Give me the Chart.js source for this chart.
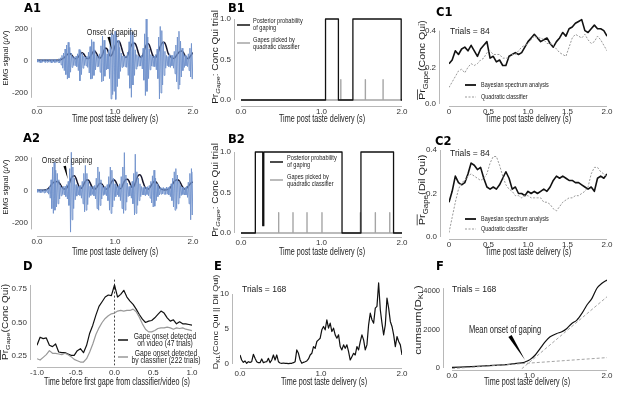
<!DOCTYPE html>
<html>
<head>
<meta charset="utf-8">
<script src="https://cdn.jsdelivr.net/npm/chart.js@4.4.1/dist/chart.umd.min.js"></script>
<style>
  html, body { margin: 0; padding: 0; background: #fff; }
  #fig { position: relative; width: 617px; height: 395px; overflow: hidden; background: #fff; }
  #fig canvas { position: absolute; left: 0; top: 0; }
</style>
</head>
<body>
<div id="fig"></div>
<script>
// ---------- data ----------

// A1 / A2: raw EMG (uV) every 10 ms, smoothed envelope every 20 ms
const emgStep = 0.01, envStep = 0.02;
const emgA1 = [
  8,-7,10,-9,6,-11,9,-8,12,-6,
  7,-10,9,-8,11,-7,6,-9,10,-12,
  8,-7,9,-10,12,-8,6,-9,14,-12,
  20,-25,35,-45,50,-60,75,-85,100,-113,
  117,-105,85,-70,50,-40,30,-28,25,-30,
  30,-35,45,-60,72,-124,65,-85,50,-45,
  30,-28,25,-30,30,-40,55,-75,90,-113,
  134,-110,120,-90,70,-55,40,-35,30,-35,
  45,-70,95,-130,155,-125,130,-95,75,-55,
  45,-50,70,-110,150,-237,175,-210,165,-190,
  186,-240,170,-160,130,-110,85,-65,50,-40,
  32,-35,30,-35,32,-40,55,-90,120,-170,
  206,-227,180,-150,120,-90,70,-50,40,-35,
  30,-30,28,-32,35,-50,80,-120,170,-216,
  262,-190,150,-110,75,-55,40,-32,30,-35,
  30,-35,40,-55,75,-110,150,-237,216,-200,
  190,-150,120,-90,60,-45,35,-30,28,-35,
  45,-40,35,-30,35,-45,60,-80,100,-130,
  150,-175,186,-150,124,-100,80,-60,45,-40,
  35,-30,28,-35,45,-60,80,-100,110,-113,
  52
];
const envA1 = [
  4,5,5,4,5,5,4,5,5,5,
  4,5,6,5,6,8,12,18,26,36,
  45,47,40,28,18,14,20,32,46,52,
  44,28,16,15,25,42,57,62,50,30,
  18,22,40,66,82,74,48,30,38,62,
  92,115,124,118,90,55,30,22,32,58,
  88,106,113,108,85,50,26,22,42,75,
  100,109,100,70,40,22,20,35,62,90,
  110,117,112,85,50,35,22,16,18,28,
  42,55,61,62,50,32,18,15,25,40,
  52
];
const emgA2 = [
  10,-8,12,-9,7,-11,10,-8,9,-12,
  8,-10,12,-9,15,-20,30,-45,70,-110,
  150,-140,179,-120,130,-100,110,-80,70,-50,
  35,-30,25,-22,28,-25,30,-35,40,-50,
  60,-90,140,-257,242,-180,150,-110,80,-55,
  40,-32,28,-25,30,-28,35,-45,60,-80,
  110,-130,160,-120,110,-85,60,-40,30,-28,
  25,-22,28,-30,35,-50,80,-110,150,-120,
  120,-90,70,-50,35,-28,25,-22,28,-30,
  40,-60,90,-120,150,-140,130,-100,80,-60,
  45,-35,28,-25,30,-35,45,-60,90,-110,
  150,-140,240,-120,100,-70,50,-35,28,-30,
  35,-45,60,-80,110,-150,230,-140,120,-90,
  80,-60,45,-35,28,-25,22,-25,28,-30,
  25,-22,28,-30,35,-45,60,-75,95,-100,
  130,-95,80,-60,45,-35,28,-25,22,-20,
  20,-18,22,-20,18,-22,25,-20,22,-25,
  28,-35,45,-60,80,-100,120,-120,140,-110,
  100,-80,60,-45,35,-28,25,-22,20,-25,
  22,-25,30,-40,55,-80,110,-180,140,-150,
  120
];
const envA2 = [
  5,5,4,5,5,6,8,14,24,36,
  48,55,58,59,54,40,24,14,12,18,
  32,55,80,93,95,80,50,26,16,22,
  42,60,70,68,52,30,15,12,18,32,
  46,48,38,22,12,12,22,42,60,70,
  66,48,26,14,18,38,60,72,74,62,
  38,22,28,50,80,98,101,88,55,28,
  15,12,16,30,48,58,59,48,30,16,
  10,8,7,8,10,16,28,45,60,68,
  70,66,50,30,16,12,18,30,42,52,
  55
];
const onsetA1 = [0.958, 69];
const onsetA2 = [0.394, 75];

// B1 / B2: posterior probability (changes only) and classifier gape times
const postB1T = [0, 1.05, 1.21, 1.39, 1.99, 2.0];
const postB1V = [0, 1, 0, 1, 0, 0];
const gapesB1 = [1.24, 1.545, 1.765];
const postB2T = [0, 0.178, 0.27, 0.283, 1.255, 1.49, 1.895, 2.0];
const postB2V = [0, 1, 0.09, 1, 0, 1, 0, 0];
const gapesB2 = [0.468, 0.646, 0.82, 1.006, 1.483, 1.669, 1.848];
const gapeMark = 0.25;

// C1 / C2: mean probability of gaping every 40 ms
const cStep = 0.04;
const bayesC1 = [
  0.22,0.24,0.29,0.27,0.30,0.31,0.29,0.32,0.29,0.26,
  0.30,0.32,0.34,0.25,0.26,0.23,0.24,0.21,0.21,0.26,
  0.27,0.28,0.27,0.28,0.31,0.34,0.36,0.38,0.36,0.34,
  0.35,0.36,0.33,0.31,0.34,0.36,0.39,0.37,0.41,0.42,
  0.44,0.45,0.46,0.40,0.39,0.41,0.43,0.41,0.41,0.40,
  0.37
];
const quadC1 = [
  0.09,0.12,0.15,0.18,0.19,0.17,0.20,0.22,0.21,0.22,
  0.24,0.25,0.28,0.29,0.27,0.27,0.27,0.25,0.25,0.25,
  0.27,0.27,0.29,0.31,0.32,0.33,0.35,0.37,0.36,0.36,
  0.35,0.33,0.33,0.32,0.30,0.28,0.27,0.26,0.31,0.36,
  0.38,0.37,0.36,0.38,0.35,0.33,0.34,0.37,0.35,0.32,
  0.29
];
const bayesC2 = [
  0.16,0.21,0.28,0.25,0.24,0.25,0.29,0.34,0.33,0.31,
  0.32,0.27,0.23,0.22,0.23,0.22,0.24,0.27,0.30,0.27,
  0.22,0.23,0.20,0.20,0.19,0.21,0.20,0.21,0.20,0.21,
  0.22,0.21,0.23,0.26,0.28,0.27,0.28,0.27,0.26,0.26,
  0.25,0.25,0.24,0.23,0.22,0.23,0.21,0.27,0.28,0.27,
  0.29
];
const quadC2 = [
  0.02,0.09,0.16,0.22,0.25,0.26,0.28,0.29,0.28,0.27,
  0.26,0.27,0.29,0.34,0.37,0.37,0.33,0.28,0.24,0.22,
  0.21,0.19,0.19,0.18,0.19,0.19,0.18,0.18,0.18,0.18,
  0.16,0.16,0.15,0.13,0.12,0.14,0.16,0.17,0.18,0.18,
  0.19,0.19,0.20,0.21,0.23,0.29,0.32,0.32,0.30,0.29,
  0.28
];

// D: aligned to first gape, -1 s .. 1 s every 40 ms
const dStart = -1, dStep = 0.04;
const videoD = [
  0.33,0.39,0.38,0.385,0.33,0.32,0.34,0.28,0.275,0.275,
  0.265,0.255,0.255,0.29,0.305,0.275,0.33,0.42,0.48,0.555,
  0.62,0.655,0.69,0.705,0.70,0.78,0.69,0.71,0.74,0.69,
  0.66,0.635,0.60,0.56,0.525,0.50,0.51,0.515,0.535,0.56,
  0.585,0.57,0.535,0.51,0.52,0.49,0.505,0.49,0.49,0.485,
  0.48
];
const classD = [
  0.23,0.22,0.24,0.26,0.29,0.27,0.27,0.265,0.26,0.27,
  0.26,0.245,0.225,0.215,0.205,0.205,0.23,0.28,0.34,0.41,
  0.46,0.50,0.53,0.55,0.565,0.57,0.585,0.59,0.585,0.59,
  0.59,0.60,0.58,0.54,0.49,0.45,0.43,0.43,0.44,0.455,
  0.46,0.46,0.465,0.46,0.45,0.46,0.455,0.46,0.45,0.445,
  0.44
];
const dOnsetTop = 0.82;

// E: KL divergence, 98 samples over 0..2 s
const eStep = 0.02062;
const dklE = [
  1.29,0.57,0.24,0.43,0.10,0.33,0.24,0.33,1.39,0.81,
  0.33,0.19,0.19,0.72,0.19,0.29,0.33,0.81,0.19,0.57,
  1.29,0.57,1.29,0.33,0.14,0.10,0.14,0.10,0.10,0.05,
  0.10,0.10,0.19,0.33,2.01,1.53,0.57,0.10,0.24,0.33,
  0.43,0.72,1.29,1.53,2.49,2.25,3.21,3.44,3.68,4.88,
  5.36,4.88,6.32,5.12,5.84,4.64,5.12,4.16,3.68,4.16,
  2.49,2.01,2.73,2.25,2.73,1.77,0.57,1.05,1.53,1.29,
  2.49,2.01,3.21,4.16,3.44,2.01,2.73,5.60,7.27,6.32,
  5.84,7.99,8.23,11.58,7.75,5.84,4.16,5.60,9.43,7.99,
  6.08,5.36,4.16,2.49,3.92,3.21,2.73,1.29
];

// F: cumulative KL and the two straight-line fits
const cumT = [0,0.315,0.531,0.704,0.834,0.92,0.963,1.006,1.071,1.136,1.201,1.266,1.352,1.417,1.482,1.546,1.611,1.676,1.741,1.806,1.87,1.935,2.0];
const cumV = [30,87,139,174,244,278,348,435,661,1009,1357,1618,1792,1879,2053,2314,2488,2836,3271,3619,4141,4402,4576];
const preFitT = [0, 2.0];
const preFitV = [-30, 540];
const postFitT = [0.9, 2.0];
const postFitV = [-40, 3700];
const onsetF = [0.942, 415];

// ticks
const tXTicks = [0, 1, 2], tXLabels = ['0.0', '1.0', '2.0'];
const cXTicks = [0, 0.5, 1, 1.5, 2], cXLabels = ['0', '0.5', '1.0', '1.5', '2.0'];
const dXTicks = [-1, -0.5, 0, 0.5, 1], dXLabels = ['-1.0', '-0.5', '0.0', '0.5', '1.0'];
const aYTicks = [-200, 0, 200], aYLabels = ['-200', '0', '200'];
const bYTicks = [0, 0.5, 1], bYLabels = ['0.0', '0.5', '1.0'];
const cYTicks = [0, 0.2, 0.4], cYLabels = ['0.0', '0.2', '0.4'];
const dYTicks = [0.25, 0.5, 0.75], dYLabels = ['0.25', '0.50', '0.75'];
const eYTicks = [0, 5, 10], eYLabels = ['0', '5', '10'];
const fYTicks = [0, 2000, 4000], fYLabels = ['0', '2000', '4000'];

// ---------- drawing ----------
const W = 617, H = 395;
const YW = 34, XH = 14;   // room kept for tick labels
const SANS = "'Liberation Sans', Arial, 'DejaVu Sans', sans-serif";
const BOLDF = "'DejaVu Sans', 'Liberation Sans', sans-serif";
const SQ = 0.75;          // the original figure is squeezed sideways
const INK = '#222', TICK = '#333', SPINE = '#b8b8b8';
const BLUE = '#7092cc', ENV = '#15152c', BLACK = '#111', GREY = '#a5a5a5';

const seq = (vals, start, step) => vals.map((v, i) => ({ x: start + i * step, y: v }));
const pairs = (ts, vs) => ts.map((t, i) => ({ x: t, y: vs[i] }));
const gapeLine = g => [{ x: 0, y: 0 }, ...g.flatMap(t => [{ x: t, y: 0 }, { x: t, y: gapeMark }, { x: t, y: 0 }]), { x: 2, y: 0 }];

// squeezed horizontal text
function sq(ctx, text, x, y, size, align, sx) {
  ctx.save();
  ctx.translate(x, y);
  ctx.scale(sx || SQ, 1);
  ctx.font = `${size}px ${SANS}`;
  ctx.textAlign = align; ctx.textBaseline = 'middle';
  ctx.fillText(text, 0, 0);
  ctx.restore();
}

// rotated title with subscripts / overline
function rich(ctx, parts, cx, cy, size) {
  ctx.save();
  ctx.translate(cx, cy);
  ctx.rotate(-Math.PI / 2);
  ctx.scale(1, 0.85);
  ctx.textAlign = 'left';
  ctx.textBaseline = 'alphabetic';
  const fontOf = p => `${p.it ? 'italic ' : ''}${p.sub ? size * 0.72 : size}px ${SANS}`;
  const widths = parts.map(p => { ctx.font = fontOf(p); return ctx.measureText(p.t).width; });
  let x = -widths.reduce((a, b) => a + b, 0) / 2;
  const base = size * 0.36;
  parts.forEach((p, i) => {
    ctx.font = fontOf(p);
    ctx.fillText(p.t, x, base + (p.sub ? size * 0.28 : 0));
    if (p.over) ctx.fillRect(x, base - size * 0.92, widths[i], 0.9);
    x += widths[i];
  });
  ctx.restore();
}

function deco(d) {
  return {
    id: 'deco',
    afterDraw(chart) {
      const ctx = chart.ctx, xs = chart.scales.x, ys = chart.scales.y;
      ctx.save();
      // despined axes
      ctx.strokeStyle = SPINE; ctx.lineWidth = 1;
      const xt = xs.ticks;
      ctx.beginPath();
      ctx.moveTo(xs.getPixelForValue(xt[0].value), d.spineY + 0.5);
      ctx.lineTo(xs.getPixelForValue(xt[xt.length - 1].value), d.spineY + 0.5);
      ctx.moveTo(d.spineX + 0.5, ys.getPixelForValue(d.ySpan[0]));
      ctx.lineTo(d.spineX + 0.5, ys.getPixelForValue(d.ySpan[1]));
      ctx.stroke();
      // axis titles, panel letter
      ctx.fillStyle = INK;
      rich(ctx, d.yTitle, d.yPos[0], d.yPos[1], d.ySize);
      sq(ctx, d.xTitle, d.xPos[0], d.xPos[1], 10, 'center', 0.72);
      ctx.font = `bold 11.5px ${BOLDF}`;
      ctx.textAlign = 'left'; ctx.textBaseline = 'alphabetic';
      ctx.fillStyle = '#000';
      ctx.fillText(d.letter, d.letterPos[0], d.letterPos[1]);
      ctx.fillStyle = INK;
      (d.notes || []).forEach(n => sq(ctx, n.t, n.x, n.y, n.size, n.align, n.sx));
      // wedge arrows pointing at a data point
      ctx.fillStyle = '#000';
      (d.arrows || []).forEach(a => {
        const tx = xs.getPixelForValue(a.at[0]), ty = ys.getPixelForValue(a.at[1]);
        const bx = tx + a.from[0], by = ty + a.from[1];
        const len = Math.hypot(tx - bx, ty - by);
        const nx = -(ty - by) / len * a.w / 2, ny = (tx - bx) / len * a.w / 2;
        ctx.beginPath();
        ctx.moveTo(bx + nx, by + ny); ctx.lineTo(tx, ty); ctx.lineTo(bx - nx, by - ny);
        ctx.closePath(); ctx.fill();
      });
      // legends
      (d.legend || []).forEach(l => {
        ctx.strokeStyle = l.color; ctx.lineWidth = l.w; ctx.setLineDash(l.dash || []);
        ctx.beginPath(); ctx.moveTo(l.x1, l.y); ctx.lineTo(l.x2, l.y); ctx.stroke();
        ctx.setLineDash([]);
        ctx.fillStyle = INK;
        l.lines.forEach((s, i) => sq(ctx, s, l.tx, l.ty[i], l.size, l.align || 'left'));
      });
      ctx.restore();
    }
  };
}

function frame(L) {
  const sx = (L.xCal[3] - L.xCal[1]) / (L.xCal[2] - L.xCal[0]);
  const sy = (L.yCal[3] - L.yCal[1]) / (L.yCal[2] - L.yCal[0]);
  return {
    left: L.xCal[1] + (L.xr[0] - L.xCal[0]) * sx,
    right: L.xCal[1] + (L.xr[1] - L.xCal[0]) * sx,
    top: L.yCal[1] + (L.yr[1] - L.yCal[0]) * sy,
    bottom: L.yCal[1] + (L.yr[0] - L.yCal[0]) * sy
  };
}

function makePanel(p) {
  const f = frame(p.L);
  const canvas = document.createElement('canvas');
  canvas.width = W; canvas.height = H;
  document.getElementById('fig').appendChild(canvas);
  const axis = (min, max, ticks, labels, pad, isX, size) => ({
    type: 'linear', min, max,
    grid: { display: false, drawTicks: false },
    border: { display: false },
    afterFit: s => { if (isX) s.height = XH; else s.width = YW; },
    afterBuildTicks: s => { s.ticks = ticks.map(v => ({ value: v })); },
    ticks: {
      autoSkip: false, maxRotation: 0, padding: pad, color: TICK,
      font: { family: SANS, size: size || 8 },
      callback: (v, i) => labels[i]
    }
  });
  new Chart(canvas, {
    type: 'line',
    data: { datasets: p.datasets },
    options: {
      responsive: false, animation: false, events: [], devicePixelRatio: 1,
      layout: { padding: { left: f.left - YW, top: f.top, right: W - f.right, bottom: H - f.bottom - XH } },
      plugins: { legend: { display: false }, tooltip: { enabled: false } },
      elements: { point: { radius: 0 }, line: { borderJoinStyle: 'round' } },
      scales: {
        x: axis(p.L.xr[0], p.L.xr[1], p.xt, p.xl, Math.max(0, p.deco.spineY + 0.5 - f.bottom), true),
        y: axis(p.L.yr[0], p.L.yr[1], p.yt, p.yl, f.left - (p.deco.spineX - 3), false, p.yTickSize)
      }
    },
    plugins: [deco(p.deco)]
  });
}

const tTitle = 'Time post taste delivery (s)';
const emgTitle = [{ t: 'EMG signal (' }, { t: 'μ', it: true }, { t: 'V)' }];
const prTitle = [{ t: 'Pr' }, { t: 'Gape', sub: true, it: true }, { t: ': Conc Qui trial' }];
const line = (data, color, w, extra) => Object.assign({ data, borderColor: color, borderWidth: w, pointRadius: 0, tension: 0, fill: false }, extra || {});
const smooth = { cubicInterpolationMode: 'monotone' };

const bLegend = (x1, x2, tx, yB, yG) => [
  { color: BLACK, w: 1.5, x1, x2, y: yB, tx, ty: [yB - 4, yB + 3], lines: ['Posterior probability', 'of gaping'], size: 7.5 },
  { color: GREY, w: 1.5, x1, x2, y: yG, tx, ty: [yG - 3.5, yG + 3.5], lines: ['Gapes picked by', 'quadratic classifier'], size: 7.5 }
];
const cLegend = (yB, yG) => [
  { color: BLACK, w: 1.8, x1: 465, x2: 476, y: yB, tx: 481, ty: [yB], lines: ['Bayesian spectrum analysis'], size: 7.3 },
  { color: '#999', w: 1, dash: [2, 1.5], x1: 465, x2: 476, y: yG, tx: 481, ty: [yG], lines: ['Quadratic classifier'], size: 7.3 }
];

const panels = [
  { // A1
    L: { xCal: [0, 37, 2, 193], yCal: [200, 29, -200, 93], xr: [0, 2], yr: [-270, 270] },
    xt: tXTicks, xl: tXLabels, yt: aYTicks, yl: aYLabels,
    datasets: [line(seq(emgA1, 0, emgStep), BLUE, 0.9), line(seq(envA1, 0, envStep), ENV, 1.5, smooth)],
    deco: { spineX: 31, spineY: 106, ySpan: [-230, 210], yTitle: emgTitle, yPos: [6, 58], ySize: 7.5,
      xTitle: tTitle, xPos: [115, 119], letter: 'A1', letterPos: [24, 12],
      notes: [{ t: 'Onset of gaping', x: 112, y: 32, size: 9.5, align: 'center' }],
      arrows: [{ at: onsetA1, from: [-3, -13], w: 2.6 }] }
  },
  { // B1
    L: { xCal: [0, 241, 2, 402], yCal: [1, 19, 0, 100], xr: [0, 2], yr: [-0.02, 1.02] },
    xt: tXTicks, xl: tXLabels, yt: bYTicks, yl: bYLabels,
    datasets: [line(pairs(postB1T, postB1V), BLACK, 1.3, { stepped: 'before' }), line(gapeLine(gapesB1), GREY, 1.4)],
    deco: { spineX: 234, spineY: 106, ySpan: [0, 1], yTitle: prTitle, yPos: [215, 57], ySize: 10,
      xTitle: tTitle, xPos: [322, 119], letter: 'B1', letterPos: [228, 12],
      legend: bLegend(237, 250, 253, 25, 43) }
  },
  { // C1
    L: { xCal: [0, 449, 2, 607], yCal: [0.4, 29, 0, 104], xr: [0, 2], yr: [0, 0.47] },
    xt: cXTicks, xl: cXLabels, yt: cYTicks, yl: cYLabels,
    datasets: [line(seq(quadC1, 0, cStep), '#999', 1, { borderDash: [2, 1.5] }), line(seq(bayesC1, 0, cStep), BLACK, 1.6)],
    deco: { spineX: 439, spineY: 106, ySpan: [0, 0.4],
      yTitle: [{ t: 'Pr', over: true }, { t: 'Gape', sub: true }, { t: '(Conc Qui)' }], yPos: [422, 60], ySize: 10.5,
      xTitle: tTitle, xPos: [528, 119], letter: 'C1', letterPos: [436, 16],
      notes: [{ t: 'Trials = 84', x: 450, y: 32, size: 8.5, align: 'left', sx: 1 }],
      legend: cLegend(85, 97) }
  },
  { // A2
    L: { xCal: [0, 37, 2, 193], yCal: [200, 159, -200, 223], xr: [0, 2], yr: [-270, 270] },
    xt: tXTicks, xl: tXLabels, yt: aYTicks, yl: aYLabels,
    datasets: [line(seq(emgA2, 0, emgStep), BLUE, 0.9), line(seq(envA2, 0, envStep), ENV, 1.5, smooth)],
    deco: { spineX: 31, spineY: 236, ySpan: [-240, 210], yTitle: emgTitle, yPos: [6, 187], ySize: 7.5,
      xTitle: tTitle, xPos: [115, 252], letter: 'A2', letterPos: [23, 142],
      notes: [{ t: 'Onset of gaping', x: 67, y: 160, size: 9.5, align: 'center' }],
      arrows: [{ at: onsetA2, from: [-3, -13], w: 2.6 }] }
  },
  { // B2
    L: { xCal: [0, 241, 2, 402], yCal: [1, 152, 0, 233], xr: [0, 2], yr: [-0.02, 1.02] },
    xt: tXTicks, xl: tXLabels, yt: bYTicks, yl: bYLabels,
    datasets: [line(pairs(postB2T, postB2V), BLACK, 1.3, { stepped: 'before' }), line(gapeLine(gapesB2), GREY, 1.4)],
    deco: { spineX: 234, spineY: 237, ySpan: [0, 1], yTitle: prTitle, yPos: [215, 190], ySize: 10,
      xTitle: tTitle, xPos: [322, 252], letter: 'B2', letterPos: [228, 143],
      legend: bLegend(270, 283, 287, 162, 180) }
  },
  { // C2
    L: { xCal: [0, 449, 2, 607], yCal: [0.4, 150, 0, 237], xr: [0, 2], yr: [0, 0.42] },
    xt: cXTicks, xl: cXLabels, yt: cYTicks, yl: cYLabels,
    datasets: [line(seq(quadC2, 0, cStep), '#999', 1, { borderDash: [2, 1.5] }), line(seq(bayesC2, 0, cStep), BLACK, 1.6)],
    deco: { spineX: 440, spineY: 239, ySpan: [0, 0.4],
      yTitle: [{ t: 'Pr', over: true }, { t: 'Gape', sub: true }, { t: '(Dil Qui)' }], yPos: [422, 190], ySize: 11,
      xTitle: tTitle, xPos: [528, 252], letter: 'C2', letterPos: [435, 145],
      notes: [{ t: 'Trials = 84', x: 450, y: 154, size: 8.5, align: 'left', sx: 1 }],
      legend: cLegend(219, 229) }
  },
  { // D
    L: { xCal: [-1, 37, 1, 192], yCal: [0.75, 289, 0.25, 356], xr: [-1, 1], yr: [0.18, 0.83] },
    xt: dXTicks, xl: dXLabels, yt: dYTicks, yl: dYLabels,
    datasets: [
      line(seq(classD, dStart, dStep), '#999', 1.2),
      line(seq(videoD, dStart, dStep), BLACK, 1.2),
      line([{ x: 0, y: dOnsetTop }, { x: 0, y: 0.18 }], '#444', 1, { borderDash: [2, 2] })
    ],
    deco: { spineX: 30, spineY: 367, ySpan: [0.22, 0.78],
      yTitle: [{ t: 'Pr', over: true }, { t: 'Gape', sub: true }, { t: '(Conc Qui)' }], yPos: [5, 322], ySize: 10,
      xTitle: 'Time before first gape from classifier/video (s)', xPos: [117, 382], letter: 'D', letterPos: [23, 270],
      legend: [
        { color: BLACK, w: 1.5, x1: 118, x2: 128, y: 340, tx: 165, align: 'center', ty: [336.5, 343.5], lines: ['Gape onset detected', 'on video (47 trials)'], size: 9 },
        { color: '#999', w: 1.5, x1: 118, x2: 128, y: 357, tx: 166, align: 'center', ty: [354, 361], lines: ['Gape onset detected', 'by classifier (222 trials)'], size: 9 }
      ] }
  },
  { // E
    L: { xCal: [0, 240, 2, 402], yCal: [10, 294, 0, 364], xr: [0, 2], yr: [-0.3, 12] },
    xt: tXTicks, xl: tXLabels, yt: eYTicks, yl: eYLabels,
    datasets: [line(seq(dklE, 0, eStep), BLACK, 1.2)],
    deco: { spineX: 232, spineY: 368, ySpan: [0, 10],
      yTitle: [{ t: 'D' }, { t: 'KL', sub: true }, { t: '(Conc Qui || Dil Qui)' }], yPos: [215, 322], ySize: 9,
      xTitle: tTitle, xPos: [324, 382], letter: 'E', letterPos: [214, 270],
      notes: [{ t: 'Trials = 168', x: 242, y: 290, size: 8.5, align: 'left', sx: 1 }] }
  },
  { // F
    L: { xCal: [0, 452, 2, 607], yCal: [4000, 291, 0, 368], xr: [0, 2], yr: [-60, 4700] },
    xt: tXTicks, xl: tXLabels, yt: fYTicks, yl: fYLabels, yTickSize: 7.5,
    datasets: [
      line(pairs(preFitT, preFitV), '#999', 0.9, { borderDash: [3, 2] }),
      line(pairs(postFitT, postFitV), '#999', 0.9, { borderDash: [3, 2] }),
      line(pairs(cumT, cumV), BLACK, 1.2, smooth)
    ],
    deco: { spineX: 443, spineY: 370, ySpan: [0, 4150],
      yTitle: [{ t: 'cumsum(D' }, { t: 'KL', sub: true }, { t: ')' }], yPos: [417, 320], ySize: 11.5,
      xTitle: tTitle, xPos: [527, 382], letter: 'F', letterPos: [436, 270],
      notes: [
        { t: 'Trials = 168', x: 452, y: 290, size: 8.5, align: 'left', sx: 1 },
        { t: 'Mean onset of gaping', x: 505, y: 330, size: 10, align: 'center' }
      ],
      arrows: [{ at: onsetF, from: [-15, -24], w: 3.8 }] }
  }
];

panels.forEach(makePanel);
</script>
</body>
</html>
